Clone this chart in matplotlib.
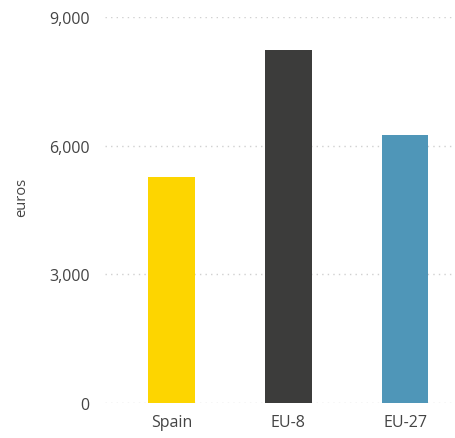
import matplotlib
matplotlib.use("Agg")
import matplotlib.pyplot as plt
from matplotlib.ticker import FuncFormatter

categories = ["Spain", "EU-8", "EU-27"]
values = [5260, 8230, 6240]
colors = ["#FDD500", "#3C3C3B", "#4F96B8"]
yticks = [0, 3000, 6000, 9000]

plt.rcParams['font.family'] = ['Open Sans', 'DejaVu Sans']

fig = plt.figure(figsize=(4.55, 4.39), dpi=100)
ax = fig.add_axes([0.231, 0.080, 0.762, 0.879])
x = range(len(categories))
ax.bar(x, values, width=0.4, color=colors, zorder=3)
ax.set_xticks(list(x))
ax.set_xticklabels(categories)
ax.set_yticks(yticks)
ax.yaxis.set_major_formatter(FuncFormatter(lambda v, p: f"{int(v):,}"))
ax.set_ylim(0, 9000)
ax.set_xlim(-0.57, 2.4)
ax.grid(axis='y', color='#d0d0d0', linestyle=(0, (1, 3)), linewidth=1, zorder=0)
for s in ax.spines.values():
    s.set_visible(False)
ax.tick_params(axis='both', length=0, labelsize=11.5, colors='#444444')
ax.tick_params(axis='y', pad=11)
ax.tick_params(axis='x', pad=8)
ax.set_ylabel("euros", fontsize=10.5, color='#444444')
ax.yaxis.set_label_coords(-0.22, 0.535)
fig.savefig("out.png", dpi=100)
